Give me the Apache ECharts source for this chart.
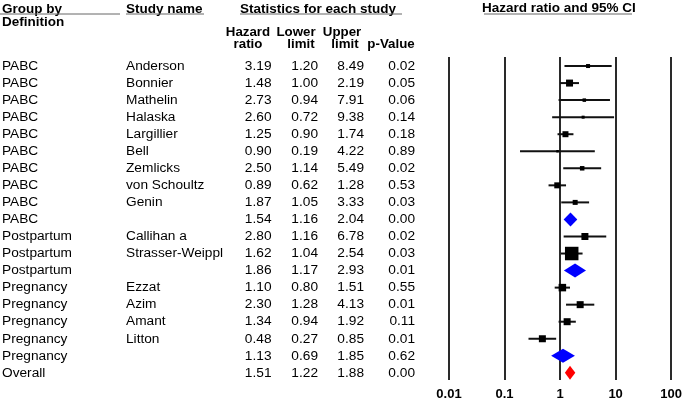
<!DOCTYPE html>
<html>
<head>
<meta charset="utf-8">
<script src="https://cdn.jsdelivr.net/npm/echarts@6/dist/echarts.min.js"></script>
<style>
  html, body { margin: 0; padding: 0; background: #fff; }
  #chart { width: 685px; height: 405px; }
</style>
</head>
<body>
<div id="chart"></div>
<script>
// rows of the forest plot, top to bottom
const groups = ['PABC', 'PABC', 'PABC', 'PABC', 'PABC', 'PABC', 'PABC', 'PABC', 'PABC', 'PABC',
  'Postpartum', 'Postpartum', 'Postpartum',
  'Pregnancy', 'Pregnancy', 'Pregnancy', 'Pregnancy', 'Pregnancy', 'Overall'];
const studies = ['Anderson', 'Bonnier', 'Mathelin', 'Halaska', 'Largillier', 'Bell', 'Zemlicks', 'von Schoultz', 'Genin', '',
  'Callihan a', 'Strasser-Weippl', '',
  'Ezzat', 'Azim', 'Amant', 'Litton', '', ''];
const hazardRatio = [3.19, 1.48, 2.73, 2.60, 1.25, 0.90, 2.50, 0.89, 1.87, 1.54, 2.80, 1.62, 1.86, 1.10, 2.30, 1.34, 0.48, 1.13, 1.51];
const lowerLimit = [1.20, 1.00, 0.94, 0.72, 0.90, 0.19, 1.14, 0.62, 1.05, 1.16, 1.16, 1.04, 1.17, 0.80, 1.28, 0.94, 0.27, 0.69, 1.22];
const upperLimit = [8.49, 2.19, 7.91, 9.38, 1.74, 4.22, 5.49, 1.28, 3.33, 2.04, 6.78, 2.54, 2.93, 1.51, 4.13, 1.92, 0.85, 1.85, 1.88];
const pValue = [0.02, 0.05, 0.06, 0.14, 0.18, 0.89, 0.02, 0.53, 0.03, 0.00, 0.02, 0.03, 0.01, 0.55, 0.01, 0.11, 0.01, 0.62, 0.00];
// 'study' = square + CI, 'sub' = blue diamond, 'all' = red diamond
const rowKind = ['study', 'study', 'study', 'study', 'study', 'study', 'study', 'study', 'study', 'sub',
  'study', 'study', 'sub',
  'study', 'study', 'study', 'study', 'sub', 'all'];
// relative study weight shown as square size
const studyWeight = [4, 7, 3.5, 3, 6, 2.5, 4.5, 6, 5, 0, 7, 13.5, 0, 7.5, 7, 7, 7, 0, 0];
const axisTicks = [0.01, 0.1, 1, 10, 100];

const FONT = "'Liberation Sans', Arial, sans-serif";
const chart = echarts.init(document.getElementById('chart'));

const yMin = -0.53, yMax = 18.42;

function textItem(text, x, y, align, bold) {
  return {
    type: 'text',
    style: {
      text: text, x: x, y: y, align: align, verticalAlign: 'middle',
      fill: '#000', font: (bold ? 'bold ' : '') + '13.7px ' + FONT
    }
  };
}

function headText(text, x, y) {
  return {
    type: 'text', x: x, y: y,
    style: { text: text, font: 'bold 13.3px ' + FONT, fill: '#000', align: 'center', verticalAlign: 'middle' }
  };
}

const option = {
  animation: false,
  grid: [
    { left: 0, right: 0, top: 57, bottom: 25 },
    { left: 449, width: 223, top: 57, bottom: 25 }
  ],
  xAxis: [
    { gridIndex: 0, type: 'value', min: 0, max: 685, show: false },
    {
      gridIndex: 1, type: 'log', logBase: 10, min: 0.01, max: 100,
      axisLine: { show: false },
      axisTick: { show: false },
      splitLine: { show: true, lineStyle: { color: '#2a2a2a', width: 2 } },
      axisLabel: {
        margin: 8, fontFamily: FONT, fontWeight: 'bold', fontSize: 13, color: '#000',
        formatter: v => String(axisTicks.find(t => Math.abs(t - v) / t < 1e-6) ?? v)
      }
    }
  ],
  yAxis: [
    { gridIndex: 0, type: 'value', inverse: true, min: yMin, max: yMax, show: false },
    { gridIndex: 1, type: 'value', inverse: true, min: yMin, max: yMax, show: false }
  ],
  graphic: [
    { type: 'text', left: 2, top: 2, style: { text: 'Group by', font: 'bold 13.5px ' + FONT, fill: '#000' } },
    { type: 'text', left: 2, top: 15, style: { text: 'Definition', font: 'bold 13.5px ' + FONT, fill: '#000' } },
    { type: 'text', left: 126, top: 2, style: { text: 'Study name', font: 'bold 13.5px ' + FONT, fill: '#000' } },
    { type: 'text', left: 240, top: 2, style: { text: 'Statistics for each study', font: 'bold 13.5px ' + FONT, fill: '#000' } },
    { type: 'text', left: 482, top: 1, style: { text: 'Hazard ratio and 95% CI', font: 'bold 13.5px ' + FONT, fill: '#000' } },
    { type: 'line', shape: { x1: 0, y1: 14, x2: 120, y2: 14 }, style: { stroke: '#666', lineWidth: 1 } },
    { type: 'line', shape: { x1: 126, y1: 14, x2: 204, y2: 14 }, style: { stroke: '#666', lineWidth: 1 } },
    { type: 'line', shape: { x1: 240, y1: 14, x2: 402, y2: 14 }, style: { stroke: '#666', lineWidth: 1 } },
    { type: 'line', shape: { x1: 484, y1: 14, x2: 632, y2: 14 }, style: { stroke: '#666', lineWidth: 1 } },
    headText('Hazard', 248, 32),
    headText('ratio', 248, 44),
    headText('Lower', 296, 32),
    headText('limit', 301, 44),
    headText('Upper', 342, 32),
    headText('limit', 345, 44),
    headText('p-Value', 391, 44)
  ],
  series: [
    {
      // table columns
      type: 'custom',
      xAxisIndex: 0, yAxisIndex: 0,
      data: groups.map((g, i) => [0, i]),
      encode: { x: 0, y: 1 },
      renderItem: function (params, api) {
        const i = params.dataIndex;
        const y = api.coord([0, i])[1];
        return {
          type: 'group',
          children: [
            textItem(groups[i], 2, y, 'left'),
            textItem(studies[i], 126, y, 'left'),
            textItem(hazardRatio[i].toFixed(2), 271.5, y, 'right'),
            textItem(lowerLimit[i].toFixed(2), 318, y, 'right'),
            textItem(upperLimit[i].toFixed(2), 364, y, 'right'),
            textItem(pValue[i].toFixed(2), 415, y, 'right')
          ]
        };
      }
    },
    {
      // forest marks
      type: 'custom',
      xAxisIndex: 1, yAxisIndex: 1,
      data: hazardRatio.map((v, i) => [v, i, lowerLimit[i], upperLimit[i]]),
      encode: { x: [0, 2, 3], y: 1 },
      renderItem: function (params, api) {
        const i = params.dataIndex;
        const p = api.coord([hazardRatio[i], i]);
        const lo = api.coord([lowerLimit[i], i]);
        const hi = api.coord([upperLimit[i], i]);
        if (rowKind[i] === 'study') {
          const s = studyWeight[i];
          return {
            type: 'group',
            children: [
              { type: 'line', shape: { x1: lo[0], y1: lo[1], x2: hi[0], y2: hi[1] }, style: { stroke: '#111', lineWidth: 2 } },
              { type: 'rect', shape: { x: p[0] - s / 2, y: p[1] - s / 2, width: s, height: s }, style: { fill: '#000' } }
            ]
          };
        }
        const h = 7;
        return {
          type: 'polygon',
          shape: { points: [[lo[0], lo[1]], [p[0], p[1] - h], [hi[0], hi[1]], [p[0], p[1] + h]] },
          style: { fill: rowKind[i] === 'all' ? '#ff0000' : '#0000ff' }
        };
      }
    }
  ]
};

chart.setOption(option);
</script>
</body>
</html>
